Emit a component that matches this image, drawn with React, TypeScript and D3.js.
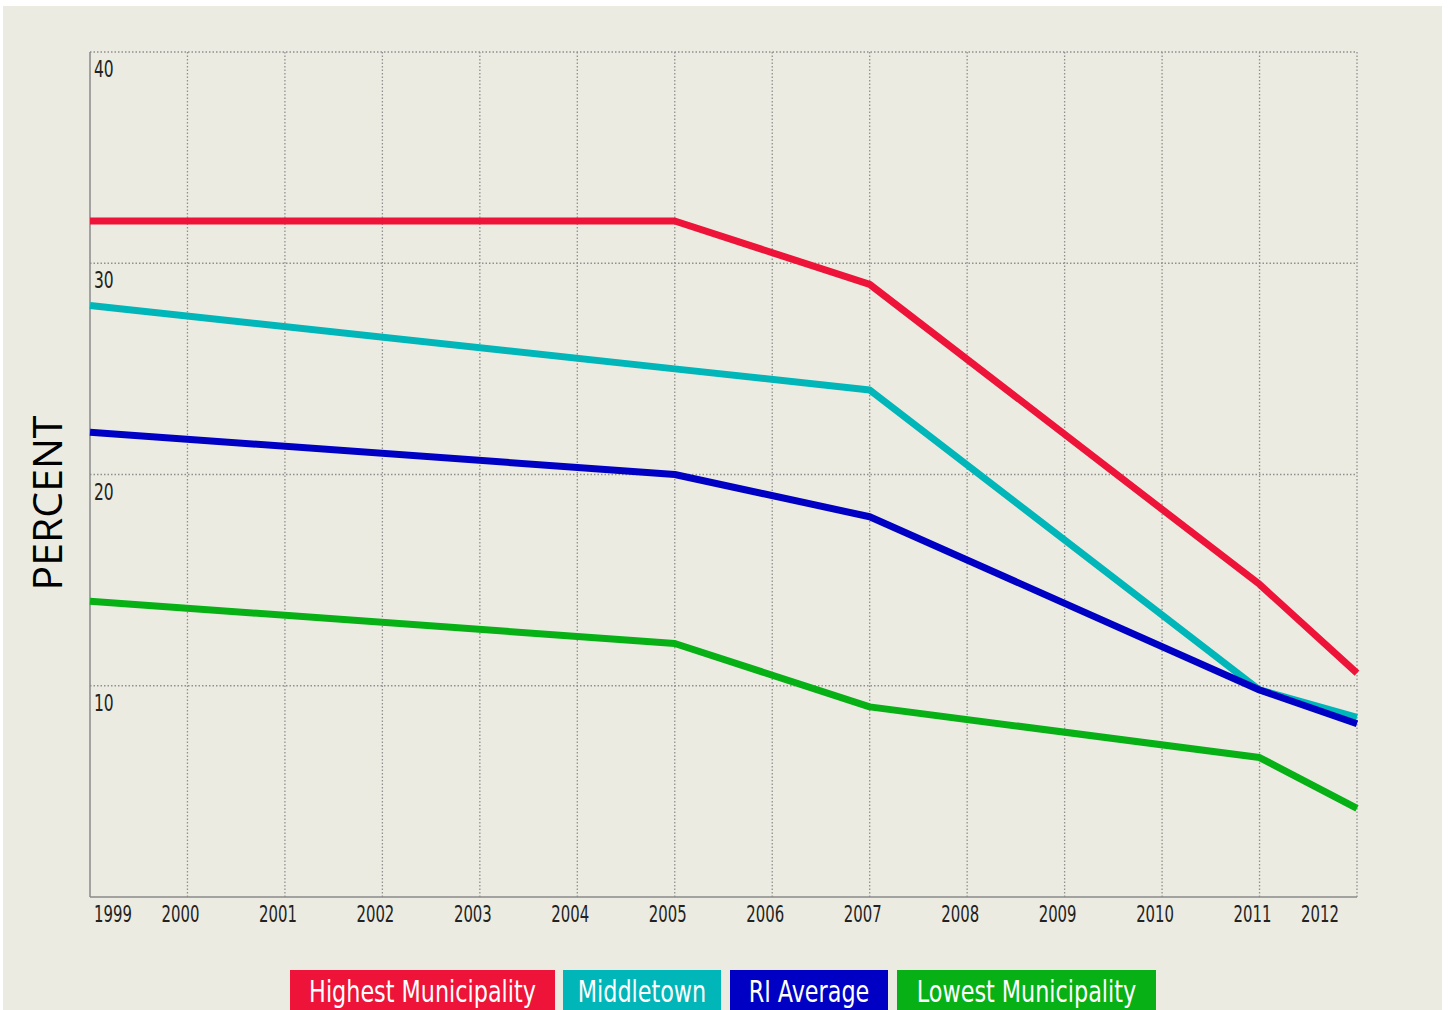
import React from "react";
import * as d3 from "d3";

const years = [1999, 2000, 2001, 2002, 2003, 2004, 2005, 2006, 2007, 2008, 2009, 2010, 2011, 2012];
const yTicks = [10, 20, 30, 40];
const pointYears = [1999, 2005, 2007, 2011, 2012];
const highest = [32, 32, 29, 14.8, 10.6];
const middletown = [28, 25, 24, 9.8, 8.5];
const riAverage = [22, 20, 18, 9.8, 8.2];
const lowest = [14, 12, 9, 6.6, 4.2];
const seriesNames = ["Highest Municipality", "Middletown", "RI Average", "Lowest Municipality"];
const seriesColors = ["#ee1338", "#00b6b8", "#0000c4", "#06b015"];

const W = 1448;
const H = 1010;
const left = 90, right = 1357, top = 52, bottom = 897;
const narrow = "'Liberation Sans Narrow', 'DejaVu Sans Condensed', 'Roboto Condensed', sans-serif";

function NarrowText(props: {
  x: number;
  y: number;
  sx: number;
  anchor?: "start" | "middle" | "end";
  size: number;
  fill: string;
  children: React.ReactNode;
}) {
  return (
    <g transform={`translate(${props.x},${props.y}) scale(${props.sx},1)`}>
      <text
        x={0}
        y={0}
        textAnchor={props.anchor || "start"}
        fontFamily={narrow}
        fontSize={props.size}
        fill={props.fill}
      >
        {props.children}
      </text>
    </g>
  );
}

export default function App() {
  const x = d3.scaleLinear().domain([1999, 2012]).range([left, right]);
  const y = d3.scaleLinear().domain([0, 40]).range([bottom, top]);
  const allSeries = [highest, middletown, riAverage, lowest];
  const line = d3
    .line<[number, number]>()
    .x((d) => x(d[0]))
    .y((d) => y(d[1]));

  const legendBoxes = [
    { x0: 290, x1: 555 },
    { x0: 563, x1: 721 },
    { x0: 730, x1: 888 },
    { x0: 897, x1: 1156 },
  ];

  return (
    <svg
      width={W}
      height={H}
      style={{ position: "absolute", left: 0, top: 0, display: "block" }}
    >
      <rect x={0} y={0} width={W} height={H} fill="#ffffff" />
      <rect x={3} y={6} width={1439} height={H - 6} fill="#ecebe1" />

      {/* vertical grid */}
      {years.slice(1).map((yr) => (
        <line
          key={"vg" + yr}
          x1={x(yr)}
          x2={x(yr)}
          y1={top}
          y2={bottom}
          stroke="#8f8f8f"
          strokeWidth={1.3}
          strokeDasharray="1.5,2"
        />
      ))}
      {/* horizontal grid */}
      {yTicks.map((t) => (
        <line
          key={"hg" + t}
          x1={left}
          x2={right}
          y1={y(t)}
          y2={y(t)}
          stroke="#8f8f8f"
          strokeWidth={1.3}
          strokeDasharray="1.5,2"
        />
      ))}
      {/* axes */}
      <line x1={left} x2={left} y1={top} y2={bottom} stroke="#8a8a8a" strokeWidth={1.5} />
      <line x1={left} x2={right} y1={bottom} y2={bottom} stroke="#8a8a8a" strokeWidth={1.5} />

      {/* y tick labels */}
      {yTicks.map((t) => (
        <NarrowText key={"yt" + t} x={left + 4} y={y(t) + 25} sx={0.75} size={23} fill="#222">
          {t}
        </NarrowText>
      ))}

      {/* x tick labels */}
      {years.map((yr, i) => {
        const px = x(yr);
        let anchor: "start" | "middle" | "end" = "middle";
        let tx = px - 7;
        if (i === 0) {
          anchor = "start";
          tx = px + 4;
        } else if (i === years.length - 1) {
          anchor = "end";
          tx = px - 18;
        }
        return (
          <NarrowText key={"xt" + yr} x={tx} y={922} sx={0.72} anchor={anchor} size={23} fill="#222">
            {yr}
          </NarrowText>
        );
      })}

      {/* series lines */}
      {allSeries.map((vals, si) => (
        <path
          key={"s" + si}
          d={line(pointYears.map((yr, i) => [yr, vals[i]] as [number, number])) || ""}
          fill="none"
          stroke={seriesColors[si]}
          strokeWidth={7}
          strokeLinejoin="round"
          strokeLinecap="butt"
        />
      ))}

      {/* y axis title */}
      <text
        transform={`translate(62, 503) rotate(-90)`}
        textAnchor="middle"
        fontFamily="'Open Sans', 'Liberation Sans', sans-serif"
        fontSize={41}
        fill="#000"
      >
        PERCENT
      </text>

      {/* legend */}
      {seriesNames.map((name, i) => (
        <g key={"lg" + i}>
          <rect
            x={legendBoxes[i].x0}
            y={970}
            width={legendBoxes[i].x1 - legendBoxes[i].x0}
            height={45}
            fill={seriesColors[i]}
          />
          <NarrowText
            x={(legendBoxes[i].x0 + legendBoxes[i].x1) / 2}
            y={1002}
            sx={0.8}
            anchor="middle"
            size={31}
            fill="#ffffff"
          >
            {name}
          </NarrowText>
        </g>
      ))}
    </svg>
  );
}
